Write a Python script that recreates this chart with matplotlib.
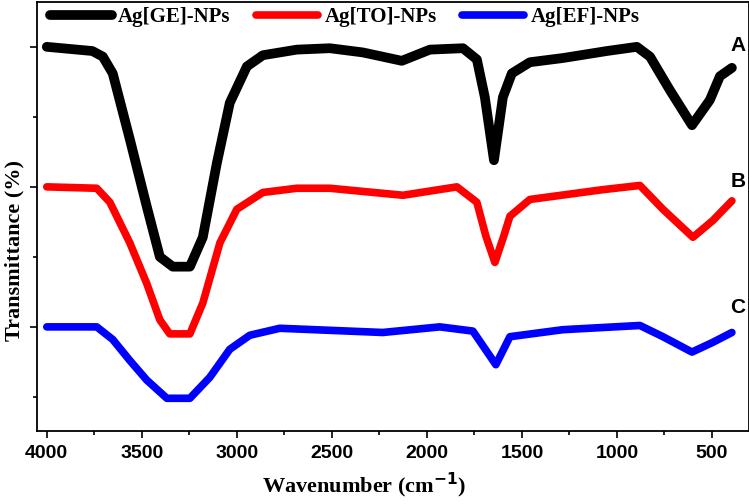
import numpy as np
import matplotlib.pyplot as plt
from matplotlib.ticker import MultipleLocator, NullFormatter

# FTIR spectra (offset, arbitrary units)
wn_a = [4000, 3760, 3705, 3653, 3563, 3474, 3405, 3337, 3247, 3179, 3105, 3037, 2947, 2863,
        2684, 2511, 2337, 2132, 1984, 1810, 1737, 1695, 1647, 1600, 1553, 1458, 1284, 1053,
        895, 826, 721, 605, 511, 458, 395]
t_a = [2.00, 1.97, 1.93, 1.81, 1.34, 0.86, 0.50, 0.43, 0.43, 0.64, 1.17, 1.60, 1.86, 1.94,
       1.98, 1.99, 1.96, 1.90, 1.98, 1.99, 1.91, 1.64, 1.19, 1.64, 1.81, 1.89, 1.92, 1.97,
       2.00, 1.93, 1.69, 1.44, 1.62, 1.79, 1.85]

wn_b = [4000, 3737, 3668, 3563, 3474, 3405, 3353, 3247, 3179, 3089, 3000, 2863, 2684, 2511,
        2126, 1842, 1737, 1690, 1642, 1595, 1563, 1458, 1074, 879, 758, 600, 495, 395]
t_b = [1.00, 0.99, 0.89, 0.60, 0.31, 0.05, -0.05, -0.05, 0.17, 0.60, 0.84, 0.96, 0.99, 0.99,
       0.94, 1.00, 0.89, 0.65, 0.46, 0.65, 0.79, 0.91, 0.98, 1.01, 0.84, 0.64, 0.76, 0.90]

wn_c = [4000, 3737, 3653, 3563, 3474, 3368, 3247, 3142, 3037, 2932, 2774, 2232, 1932, 1758,
        1637, 1563, 1284, 879, 758, 605, 495, 395]
t_c = [0.00, 0.00, -0.09, -0.24, -0.38, -0.51, -0.51, -0.36, -0.16, -0.06, -0.01, -0.04,
       0.00, -0.03, -0.27, -0.07, -0.02, 0.01, -0.07, -0.18, -0.11, -0.04]

labels = ['Ag[GE]-NPs', 'Ag[TO]-NPs', 'Ag[EF]-NPs']
colors = ['black', 'red', 'blue']
tags = ['A', 'B', 'C']
tag_y = [2.01, 1.04, 0.14]

fig = plt.figure(figsize=(7.49, 5.04), dpi=100)
ax = fig.add_axes([0.049, 0.145, 0.951, 0.851])

style = dict(solid_capstyle='round', solid_joinstyle='round')
ax.plot(wn_a, t_a, color=colors[0], lw=7, label=labels[0], **style)
ax.plot(wn_b, t_b, color=colors[1], lw=5.5, label=labels[1], **style)
ax.plot(wn_c, t_c, color=colors[2], lw=5.5, label=labels[2], **style)

# curve tags on the right
for tag, yv in zip(tags, tag_y):
    ax.text(363, yv, tag, fontsize=15, fontweight='bold', family='Liberation Sans',
            ha='center', va='center')

ax.set_xlim(4053, 305)
ax.set_ylim(-0.743, 2.32)

ax.xaxis.set_major_locator(MultipleLocator(500))
ax.xaxis.set_minor_locator(MultipleLocator(250))
ax.yaxis.set_major_locator(MultipleLocator(1))
ax.yaxis.set_minor_locator(MultipleLocator(0.5))
ax.yaxis.set_major_formatter(NullFormatter())
ax.tick_params(which='major', direction='out', length=5, width=1.2, pad=5)
ax.tick_params(which='minor', direction='out', length=3, width=1.2)
for lab in ax.get_xticklabels():
    lab.set_fontfamily('Liberation Sans')
    lab.set_fontweight('bold')
    lab.set_fontsize(14)

for s in ax.spines.values():
    s.set_linewidth(1.3)

ax.set_xlabel('Wavenumber (cm$^{\\mathbf{-1}}$)', fontsize=16, fontweight='bold',
              family='Liberation Serif')
ax.xaxis.set_label_coords(0.46, -0.093)
ax.set_ylabel('Transmittance (%)', fontsize=16, fontweight='bold', family='Liberation Serif')
ax.yaxis.set_label_coords(-0.017, 0.42)

ax.legend(loc='center left', ncol=3, frameon=False, bbox_to_anchor=(0.018, 0.965),
          handlelength=3.0, handletextpad=0.3, columnspacing=1.2, borderaxespad=0,
          borderpad=0, prop={'family': 'Liberation Serif', 'weight': 'bold', 'size': 15})

fig.savefig('out.png', dpi=100)
